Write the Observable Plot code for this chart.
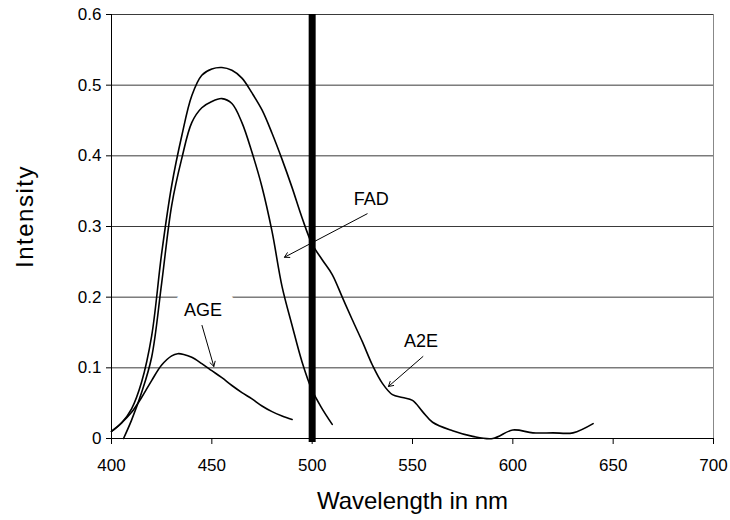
<!DOCTYPE html>
<html>
<head>
<meta charset="utf-8">
<script src="https://cdn.jsdelivr.net/npm/d3@7"></script>
<script src="https://cdn.jsdelivr.net/npm/@observablehq/plot@0.6"></script>
<style>
  html, body { margin: 0; padding: 0; background: #fff; }
  #chart { width: 730px; height: 520px; }
</style>
</head>
<body>
<div id="chart"></div>
<script>
// ---- data ----
const a2eWavelength = [400,405,410,415,420,425,430,435,440,445,450,455,460,465,470,475,480,485,490,495,500,505,510,515,520,525,530,535,540,545,550,555,560,570,580,590,600,610,620,630,640];
const a2eIntensity  = [0.010,0.022,0.042,0.080,0.145,0.262,0.358,0.428,0.485,0.514,0.523,0.525,0.521,0.510,0.489,0.465,0.432,0.395,0.355,0.312,0.275,0.253,0.232,0.200,0.168,0.137,0.104,0.078,0.062,0.058,0.054,0.038,0.023,0.011,0.003,0.000,0.012,0.008,0.008,0.008,0.021];

const fadWavelength = [406,410,415,420,425,430,435,440,445,450,455,460,465,470,475,480,485,490,495,500,505,510];
const fadIntensity  = [0.000,0.026,0.065,0.115,0.220,0.330,0.396,0.447,0.468,0.477,0.481,0.474,0.447,0.405,0.356,0.293,0.215,0.160,0.108,0.068,0.042,0.020];

const ageWavelength = [400,405,410,415,420,425,430,433,436,440,445,450,455,460,465,470,475,480,485,490];
const ageIntensity  = [0.010,0.022,0.037,0.058,0.082,0.104,0.117,0.120,0.119,0.115,0.106,0.096,0.086,0.075,0.065,0.056,0.046,0.038,0.032,0.027];

const markerWavelength = [500];

const xTicks = [400,450,500,550,600,650,700];
const yTicks = [0,0.1,0.2,0.3,0.4,0.5,0.6];
const yTickLabels = ["0","0.1","0.2","0.3","0.4","0.5","0.6"];
const gridValues = [0.1,0.2,0.3,0.4,0.5,0.6];

// annotation labels and arrows (data units)
const labelNames = ["FAD","A2E","AGE"];
const labelX     = [529.5, 554.2, 445.6];
const labelY     = [0.339, 0.137, 0.182];
const arrowFromX = [527.4, 555.2, 445.1];
const arrowFromY = [0.318, 0.116, 0.160];
const arrowToX   = [486.2, 538.0, 451.0];
const arrowToY   = [0.2565, 0.0736, 0.102];

const xTitle = "Wavelength in nm";
const yTitle = "Intensity";

// ---- build tables ----
const toRows = (xs, ys) => xs.map((x, i) => ({x, y: ys[i]}));
const a2e = toRows(a2eWavelength, a2eIntensity);
const fad = toRows(fadWavelength, fadIntensity);
const age = toRows(ageWavelength, ageIntensity);
const labels = labelNames.map((t, i) => ({t, x: labelX[i], y: labelY[i]}));
const arrows = labelNames.map((t, i) => ({x1: arrowFromX[i], y1: arrowFromY[i], x2: arrowToX[i], y2: arrowToY[i]}));

const FONT = "'Liberation Sans', Arial, Helvetica, sans-serif";

const chart = Plot.plot({
  width: 730,
  height: 520,
  marginTop: 14,
  marginBottom: 82,
  marginLeft: 111,
  marginRight: 17,
  style: {fontFamily: FONT, fontSize: "17px", color: "#000", background: "#fff"},
  x: {domain: [400, 700]},
  y: {domain: [0, 0.6]},
  marks: [
    Plot.ruleY(gridValues, {stroke: "#3a3a3a", strokeWidth: 1}),
    Plot.ruleX([700], {stroke: "#888", strokeWidth: 1}),
    Plot.text(labels, {x: "x", y: "y", text: "t", fontSize: 18, fill: "#000",
      stroke: "#fff", strokeWidth: 26, paintOrder: "stroke", lineAnchor: "middle"}),
    Plot.line(a2e, {x: "x", y: "y", curve: "catmull-rom", stroke: "#000", strokeWidth: 1.6}),
    Plot.line(fad, {x: "x", y: "y", curve: "catmull-rom", stroke: "#000", strokeWidth: 1.6}),
    Plot.line(age, {x: "x", y: "y", curve: "catmull-rom", stroke: "#000", strokeWidth: 1.6}),
    Plot.arrow(arrows, {x1: "x1", y1: "y1", x2: "x2", y2: "y2", stroke: "#000", strokeWidth: 1, headLength: 8}),
    Plot.ruleX(markerWavelength, {stroke: "#000", strokeWidth: 7, insetBottom: -4}),
    Plot.ruleX([400], {stroke: "#000", strokeWidth: 1}),
    Plot.ruleY([0], {stroke: "#000", strokeWidth: 1}),
    Plot.axisX({ticks: xTicks, tickSize: 6, tickPadding: 14, label: null, fontSize: 17}),
    Plot.axisY({ticks: yTicks, tickFormat: (d) => yTickLabels[yTicks.indexOf(d)] ?? String(d),
      tickSize: 5, tickPadding: 5, label: null, fontSize: 17}),
    Plot.text([xTitle], {text: (d) => d, frameAnchor: "bottom", textAnchor: "middle", lineAnchor: "middle",
      dy: 63, fontSize: 24, fill: "#000"}),
    Plot.text([yTitle], {text: (d) => d, frameAnchor: "left", textAnchor: "middle", lineAnchor: "middle",
      rotate: -90, dx: -86, dy: -10, fontSize: 24, fill: "#000"})
  ]
});
// slightly wider tracking on the vertical title, as in the reference
chart.querySelectorAll("text").forEach((t) => {
  if (t.textContent === yTitle) t.style.letterSpacing = "1.5px";
});
document.getElementById("chart").appendChild(chart);
</script>
</body>
</html>
